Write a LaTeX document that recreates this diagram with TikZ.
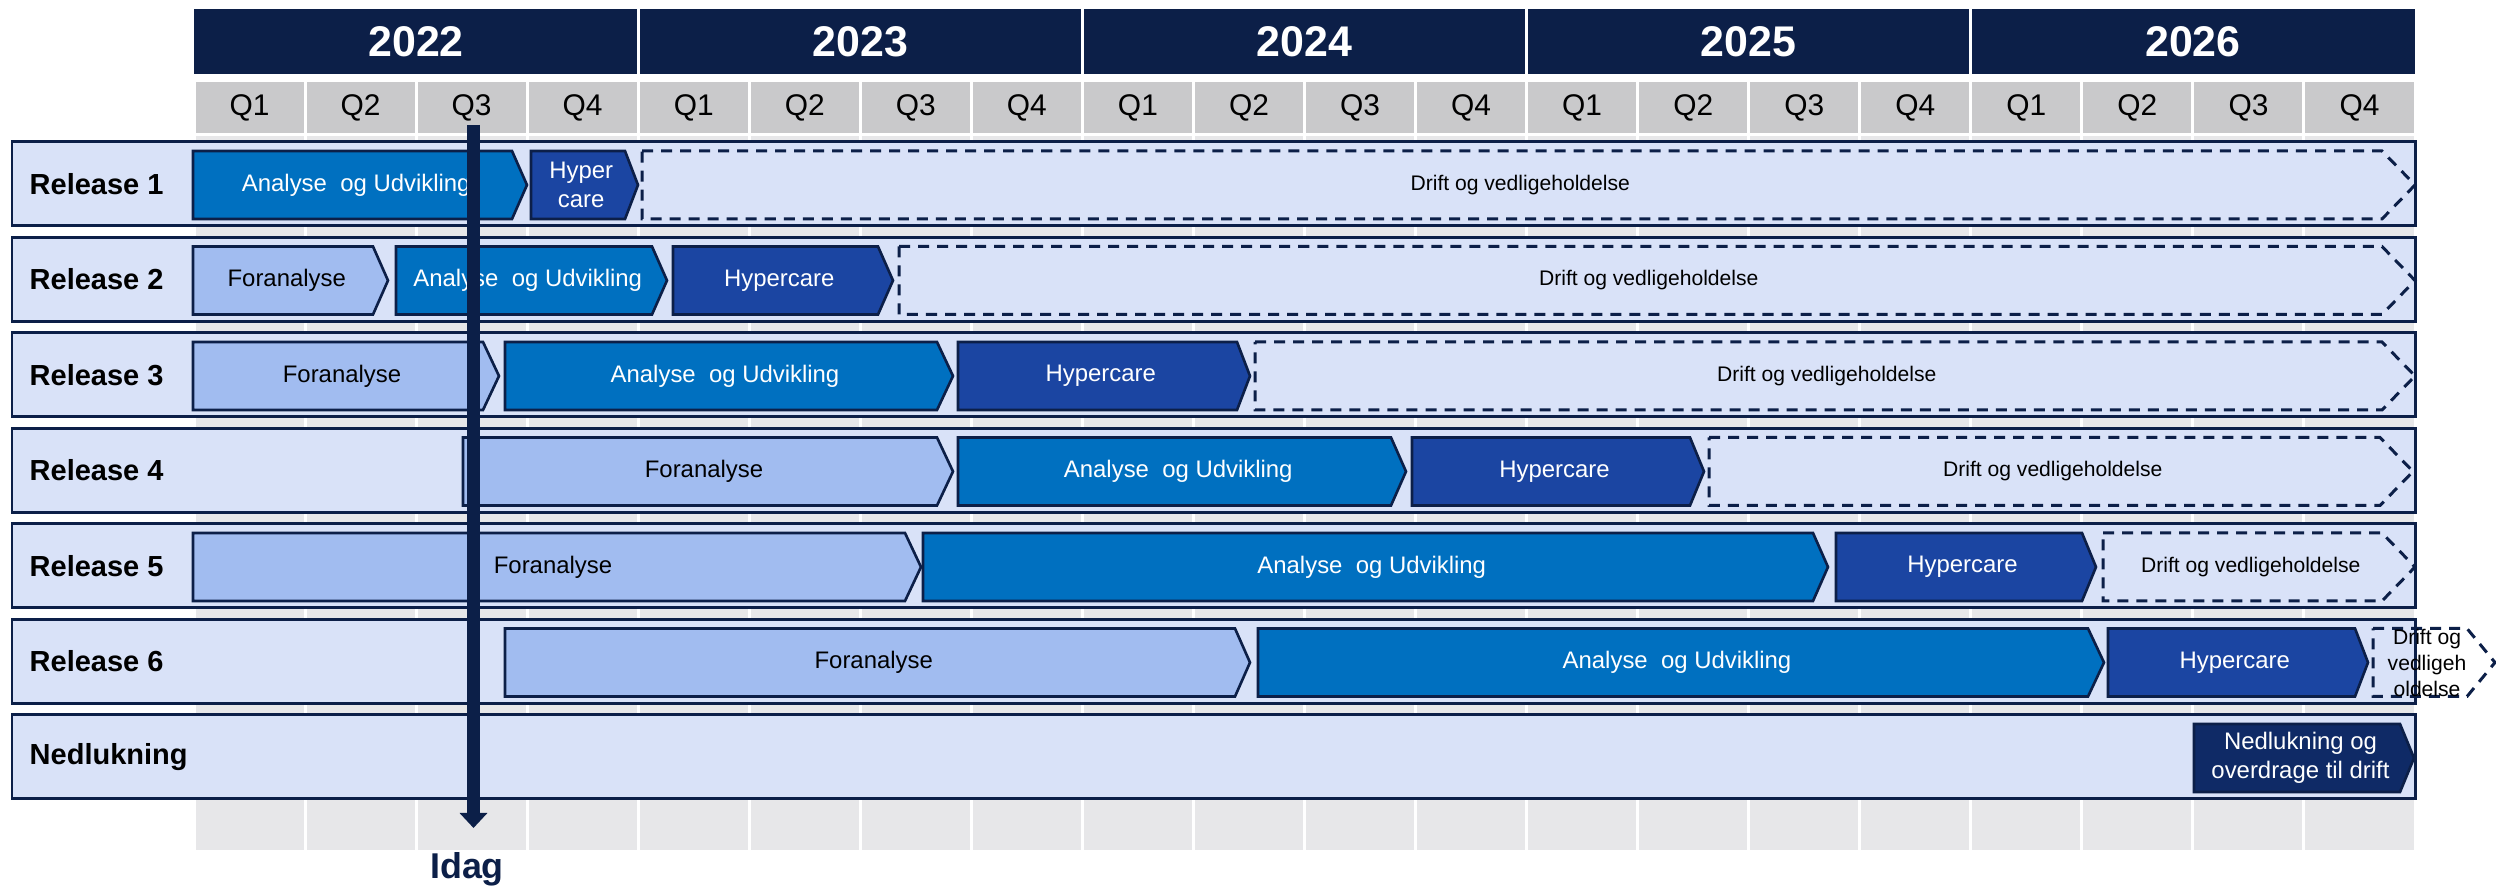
\documentclass[tikz,border=0pt]{standalone}
\usepackage{fontspec}
\setmainfont{Liberation Sans}
\usetikzlibrary{arrows.meta}

\definecolor{navy}{RGB}{12,31,72}
\definecolor{qgrey}{RGB}{201,201,203}
\definecolor{colgrey}{RGB}{231,231,233}
\definecolor{rowblue}{RGB}{217,226,248}
\definecolor{forablue}{RGB}{161,188,240}
\definecolor{devblue}{RGB}{0,112,192}
\definecolor{careblue}{RGB}{27,69,162}
\definecolor{shutblue}{RGB}{15,42,102}

% one phase of a release: name, style, start, tip, tip depth, row top, text
\newcommand{\phase}[7]{%
	\draw[#2] (#3,#6+9) -- (#4-#5,#6+9) -- (#4,#6+43) -- (#4-#5,#6+77) -- (#3,#6+77) -- cycle;
	\node[#2 text] (#1) at ({(#3+#4-#5/2)/2},#6+43) {#7};
}

\begin{document}
\begin{tikzpicture}[x=0.01cm,y=-0.01cm,
		yearcell/.style={font=\fontsize{12.2}{14}\selectfont\bfseries, text=white},
		qcell/.style={font=\fontsize{8.5}{10}\selectfont, text=black},
		rowbox/.style={draw=navy, line width=0.85pt, fill=rowblue},
		rowlabel/.style={font=\fontsize{8.25}{10}\selectfont\bfseries, anchor=west, inner sep=0pt},
		phasebox/.style={draw=navy, line width=0.75pt},
		fora/.style={phasebox, fill=forablue},
		fora text/.style={font=\fontsize{6.8}{8.1}\selectfont, text=black, align=center},
		dev/.style={phasebox, fill=devblue},
		dev text/.style={font=\fontsize{6.8}{8.1}\selectfont, text=white, align=center},
		care/.style={phasebox, fill=careblue},
		care text/.style={font=\fontsize{6.8}{8.1}\selectfont, text=white, align=center},
		drift/.style={draw=navy, line width=0.85pt, dash pattern=on 0.11cm off 0.08cm},
		drift text/.style={font=\fontsize{6}{7.4}\selectfont, text=black, align=center},
		shutdown/.style={phasebox, fill=shutblue},
		shutdown text/.style={font=\fontsize{6.8}{8.1}\selectfont, text=white, align=center},
		idag/.style={navy, line width=3.7pt, -{Triangle[width=0.27cm,length=0.15cm]}}
	]
	\useasboundingbox (0,0) rectangle (2496,886);

	% quarter columns and labels
	\foreach \q in {0,...,19}{%
		\pgfmathtruncatemacro{\qn}{mod(\q,4)+1}
		\fill[colgrey] ({194+111.05*\q+1.5},136) rectangle ({194+111.05*(\q+1)-1.5},850);
		\fill[qgrey] ({194+111.05*\q+1.5},82) rectangle ({194+111.05*(\q+1)-1.5},133);
		\node[qcell] (q\q) at ({194+111.05*(\q+0.5)},107.5) {Q\qn};
	}

	% year band
	\fill[navy] (194,9) rectangle (2415,74);
	\foreach \yr [count=\i from 0] in {2022,...,2026}{%
		\node[yearcell] (y\yr) at ({194+444.2*(\i+0.5)},41.5) {\yr};
	}
	\foreach \i in {1,...,4}
		\draw[white, line width=0.85pt] ({194+444.2*\i},9) -- ({194+444.2*\i},74);

	% one band per release
	\foreach \lbl [count=\k from 0] in {Release 1,Release 2,Release 3,Release 4,Release 5,Release 6,Nedlukning}{%
		\draw[rowbox] (12,{142+95.5*\k}) rectangle (2415,{226+95.5*\k});
		\node[rowlabel] (lbl\k) at (29,{184+95.5*\k}) {\lbl};
	}

	% Release 1
	\phase{r1dev}{dev}{193}{527}{15}{142}{Analyse\ \ og Udvikling}
	\phase{r1care}{care}{531}{638}{13}{142}{Hyper\\care}
	\phase{r1drift}{drift}{642}{2415}{33}{142}{Drift og vedligeholdelse}
	% Release 2
	\phase{r2fora}{fora}{193}{388}{15}{237.5}{Foranalyse}
	\phase{r2dev}{dev}{396}{667}{15}{237.5}{Analyse\ \ og Udvikling}
	\phase{r2care}{care}{673}{893}{15}{237.5}{Hypercare}
	\phase{r2drift}{drift}{899}{2415}{33}{237.5}{Drift og vedligeholdelse}
	% Release 3
	\phase{r3fora}{fora}{193}{499}{16}{333}{Foranalyse}
	\phase{r3dev}{dev}{505}{953}{16}{333}{Analyse\ \ og Udvikling}
	\phase{r3care}{care}{958}{1250}{13}{333}{Hypercare}
	\phase{r3drift}{drift}{1255}{2415}{33}{333}{Drift og vedligeholdelse}
	% Release 4
	\phase{r4fora}{fora}{463}{953}{16}{428.5}{Foranalyse}
	\phase{r4dev}{dev}{958}{1406}{15}{428.5}{Analyse\ \ og Udvikling}
	\phase{r4care}{care}{1412}{1704}{14}{428.5}{Hypercare}
	\phase{r4drift}{drift}{1709}{2413}{33}{428.5}{Drift og vedligeholdelse}
	% Release 5
	\phase{r5fora}{fora}{193}{921}{16}{524}{Foranalyse}
	\phase{r5dev}{dev}{923}{1828}{15}{524}{Analyse\ \ og Udvikling}
	\phase{r5care}{care}{1836}{2096}{14}{524}{Hypercare}
	\phase{r5drift}{drift}{2103}{2415}{33}{524}{Drift og vedligeholdelse}
	% Release 6
	\phase{r6fora}{fora}{505}{1250}{15}{619.5}{Foranalyse}
	\phase{r6dev}{dev}{1258}{2104}{16}{619.5}{Analyse\ \ og Udvikling}
	\phase{r6care}{care}{2108}{2368}{13}{619.5}{Hypercare}
	\phase{r6drift}{drift}{2373}{2495}{28}{619.5}{Drift og\\vedligeh\\oldelse}
	% Nedlukning
	\phase{shut}{shutdown}{2194}{2414}{14}{715}{Nedlukning og\\overdrage til drift}

	% today marker
	\coordinate (idagtop) at (473.5,125);
	\coordinate (idagtip) at (473.5,828);
	\draw[idag] (idagtop) -- (idagtip);
	\node[font=\fontsize{10.2}{12}\selectfont\bfseries, text=navy, anchor=base] (idag) at (467,879) {Idag};
\end{tikzpicture}
\end{document}
